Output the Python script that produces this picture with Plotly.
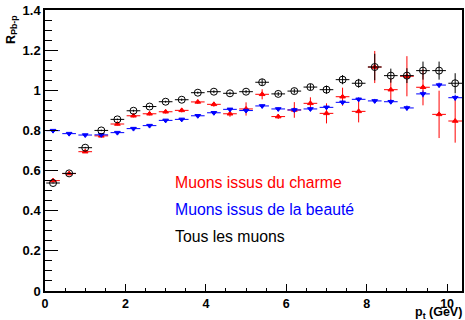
import plotly.graph_objects as go

# Centres des bins en pt (GeV)
pt = [0.2, 0.6, 1.0, 1.4, 1.8, 2.2, 2.6, 3.0, 3.4, 3.8, 4.2, 4.6, 5.0,
      5.4, 5.8, 6.2, 6.6, 7.0, 7.4, 7.8, 8.2, 8.6, 9.0, 9.4, 9.8, 10.2]

# R_Pb-p des muons issus du charme
r_charme = [0.55, 0.585, 0.694, 0.773, 0.832, 0.873, 0.883, 0.893, 0.90, 0.942,
            0.93, 0.883, 0.907, 0.98, 0.869, 0.902, 0.935, 0.885, 0.968, 0.895,
            1.116, 1.003, 1.07, 1.015, 0.88, 0.847]
err_charme = [0.005, 0.005, 0.006, 0.006, 0.007, 0.008, 0.008, 0.009, 0.01, 0.01,
              0.012, 0.015, 0.033, 0.025, 0.012, 0.039, 0.03, 0.05, 0.045, 0.055,
              0.08, 0.055, 0.1, 0.09, 0.118, 0.108]

# R_Pb-p des muons issus de la beauté
r_beaute = [0.799, 0.784, 0.777, 0.778, 0.789, 0.809, 0.824, 0.85, 0.855, 0.873,
            0.888, 0.905, 0.899, 0.922, 0.907, 0.902, 0.907, 0.915, 0.94, 0.955,
            0.947, 0.943, 0.912, 0.982, 1.026, 0.963]
err_beaute = [0.003, 0.003, 0.003, 0.003, 0.003, 0.004, 0.004, 0.004, 0.005, 0.005,
              0.005, 0.006, 0.006, 0.007, 0.007, 0.008, 0.008, 0.009, 0.01, 0.01,
              0.01, 0.011, 0.012, 0.017, 0.012, 0.015]

# R_Pb-p de tous les muons
r_tous = [0.538, 0.586, 0.714, 0.80, 0.855, 0.898, 0.919, 0.943, 0.953, 0.988,
          0.993, 0.985, 0.993, 1.04, 0.982, 0.996, 1.016, 1.003, 1.053, 1.035,
          1.116, 1.073, 1.073, 1.098, 1.098, 1.035]
err_tous = [0.003, 0.003, 0.004, 0.004, 0.004, 0.005, 0.005, 0.005, 0.006, 0.006,
            0.007, 0.007, 0.008, 0.016, 0.01, 0.012, 0.015, 0.02, 0.023, 0.022,
            0.066, 0.035, 0.037, 0.045, 0.045, 0.05]

demi_bin = 0.17

series = [
    ("Muons issus du charme", r_charme, err_charme, "red", "triangle-up", 5),
    ("Muons issus de la beauté", r_beaute, err_beaute, "blue", "triangle-down", 5),
    ("Tous les muons", r_tous, err_tous, "black", "circle-open", 7),
]

fig = go.Figure()
for nom, y, err, coul, sym, taille in series:
    fig.add_trace(go.Scatter(
        x=pt, y=y, mode="markers", name=nom,
        marker=dict(symbol=sym, size=taille, color=coul, line=dict(color=coul, width=1)),
        error_x=dict(type="constant", value=demi_bin, color=coul, thickness=1, width=0),
        error_y=dict(type="data", array=err, color=coul, thickness=1, width=0),
    ))

# Légende en texte libre, comme sur la figure ROOT
leg_y = [0.54, 0.405, 0.27]
for (nom, _, _, coul, _, _), yy in zip(series, leg_y):
    fig.add_annotation(x=3.2, y=yy, xref="x", yref="y", text=nom, showarrow=False,
                       xanchor="left", yanchor="middle", borderpad=0,
                       font=dict(family="Liberation Sans, Arial", size=15.8, color=coul))

fig.add_annotation(x=1.004, y=-0.08, xref="paper", yref="paper", showarrow=False,
                   text="<b>p<sub>t</sub> (GeV)</b>", xanchor="right", yanchor="middle",
                   font=dict(family="Liberation Sans, Arial", size=12.5, color="black"))
fig.add_annotation(x=-0.081, y=0.93, xref="paper", yref="paper", showarrow=False,
                   text="<b>R<sub>Pb-p</sub></b>", textangle=-90,
                   xanchor="center", yanchor="middle",
                   font=dict(family="Liberation Sans, Arial", size=12.5, color="black"))

fig.update_xaxes(range=[0, 10.37], showline=True, mirror=True, linecolor="black",
                 linewidth=1.5, showgrid=False, zeroline=False, automargin=False,
                 tickmode="array", tickvals=[0, 2, 4, 6, 8, 10],
                 ticktext=["<b>0</b>", "<b>2</b>", "<b>4</b>", "<b>6</b>", "<b>8</b>", "<b>10</b>"],
                 tickfont=dict(size=12.5),
                 ticks="inside", ticklen=7, tickcolor="black",
                 minor=dict(dtick=0.5, ticks="inside", ticklen=3, tickcolor="black"))
fig.update_yaxes(range=[0, 1.4], showline=True, mirror=True, linecolor="black",
                 linewidth=1.5, showgrid=False, zeroline=False, automargin=False,
                 tickmode="array", tickvals=[0, 0.2, 0.4, 0.6, 0.8, 1.0, 1.2, 1.4],
                 ticktext=["<b>0</b>", "<b>0.2</b>", "<b>0.4</b>", "<b>0.6</b>", "<b>0.8</b>",
                           "<b>1</b>", "<b>1.2</b>", "<b>1.4</b>"],
                 tickfont=dict(size=13),
                 ticks="inside", ticklen=13, tickcolor="black",
                 minor=dict(dtick=0.05, ticks="inside", ticklen=7, tickcolor="black"))

fig.update_layout(width=465, height=320, showlegend=False,
                  margin=dict(l=45, r=3, t=10, b=29),
                  plot_bgcolor="white", paper_bgcolor="white",
                  font=dict(family="Liberation Sans, Arial", size=12, color="black"))

# pas de marge autour de la page, pas de barre d'outils
fig.write_html("out.html", config={"displayModeBar": False},
               post_script="document.body.style.margin='0';")
